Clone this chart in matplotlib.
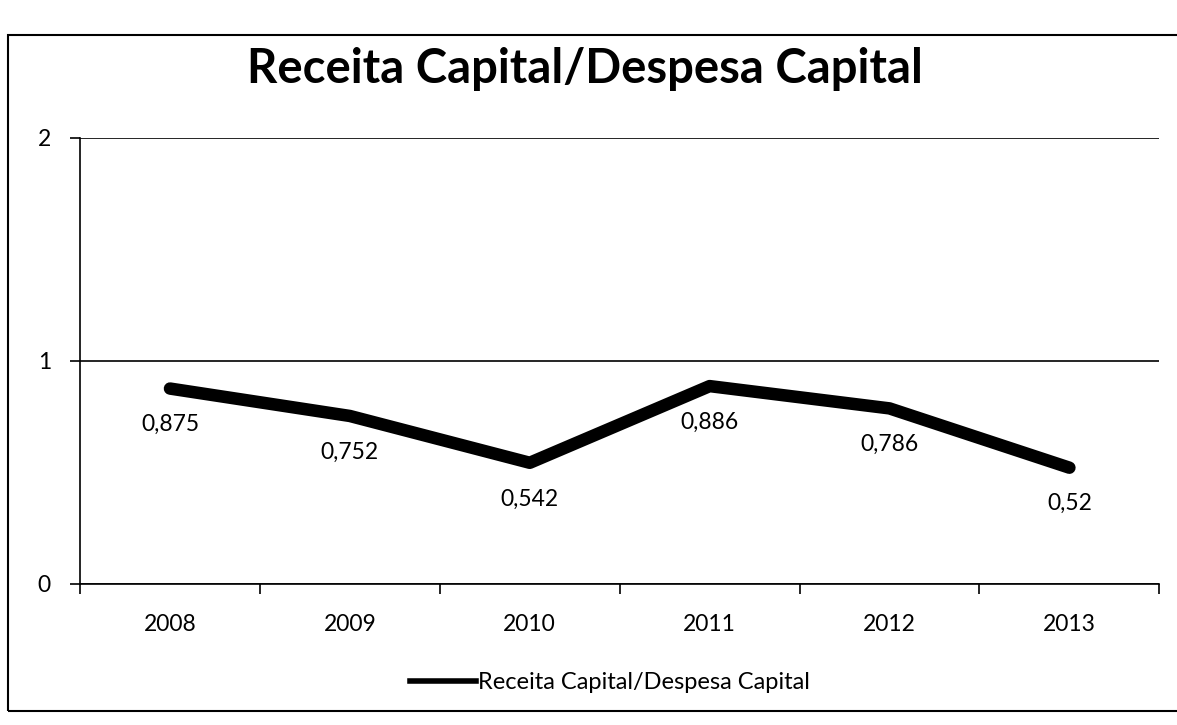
import numpy as np
import matplotlib.pyplot as plt
from matplotlib.patches import Rectangle
from matplotlib.lines import Line2D

plt.rcParams['font.family'] = ['Lato', 'DejaVu Sans']

anos = ['2008', '2009', '2010', '2011', '2012', '2013']
razao = [0.875, 0.752, 0.542, 0.886, 0.786, 0.52]
serie = 'Receita Capital/Despesa Capital'

fig = plt.figure(figsize=(11.77, 7.25), dpi=100)
ax = fig.add_axes([0.068, 0.195, 0.917, 0.615])

x = np.arange(len(anos))
ax.plot(x, razao, color='black', lw=9, solid_capstyle='round', solid_joinstyle='round')
for xi, v in zip(x, razao):
    ax.annotate(f'{v:g}'.replace('.', ','), (xi, v), xytext=(0, -26), textcoords='offset points',
                ha='center', va='center', fontsize=16.5)

ax.set_xlim(-0.5, len(anos) - 0.5)
ax.set_ylim(0, 2)
ax.set_yticks([0, 1, 2])
ax.set_xticks(x)
ax.set_xticklabels(anos)
ax.set_xticks(np.arange(-0.5, len(anos)), minor=True)
ax.tick_params(axis='x', which='major', length=0, pad=22, labelsize=16.5)
ax.tick_params(axis='x', which='minor', length=7, width=1.2)
ax.tick_params(axis='y', length=7, width=1.2, pad=14, labelsize=16.5)
ax.grid(axis='y', color='black', lw=1.2)
ax.set_axisbelow(True)
for s in ['top', 'right']:
    ax.spines[s].set_visible(False)
for s in ['left', 'bottom']:
    ax.spines[s].set_linewidth(1.2)

fig.text(0.497, 0.905, serie, ha='center', va='center', fontsize=34, fontweight='bold')
handle = Line2D([], [], color='black', lw=4)
fig.legend([handle], [serie], loc='center', bbox_to_anchor=(0.518, 0.058), frameon=False,
           fontsize=17, handlelength=2.8, handletextpad=0.1)
fig.patches.append(Rectangle((8 / 1177, 1 - 711 / 725), 1.2, (711 - 35) / 725,
                             transform=fig.transFigure, fill=False, ec='black', lw=1.5))

fig.savefig('out.png', dpi=100)
